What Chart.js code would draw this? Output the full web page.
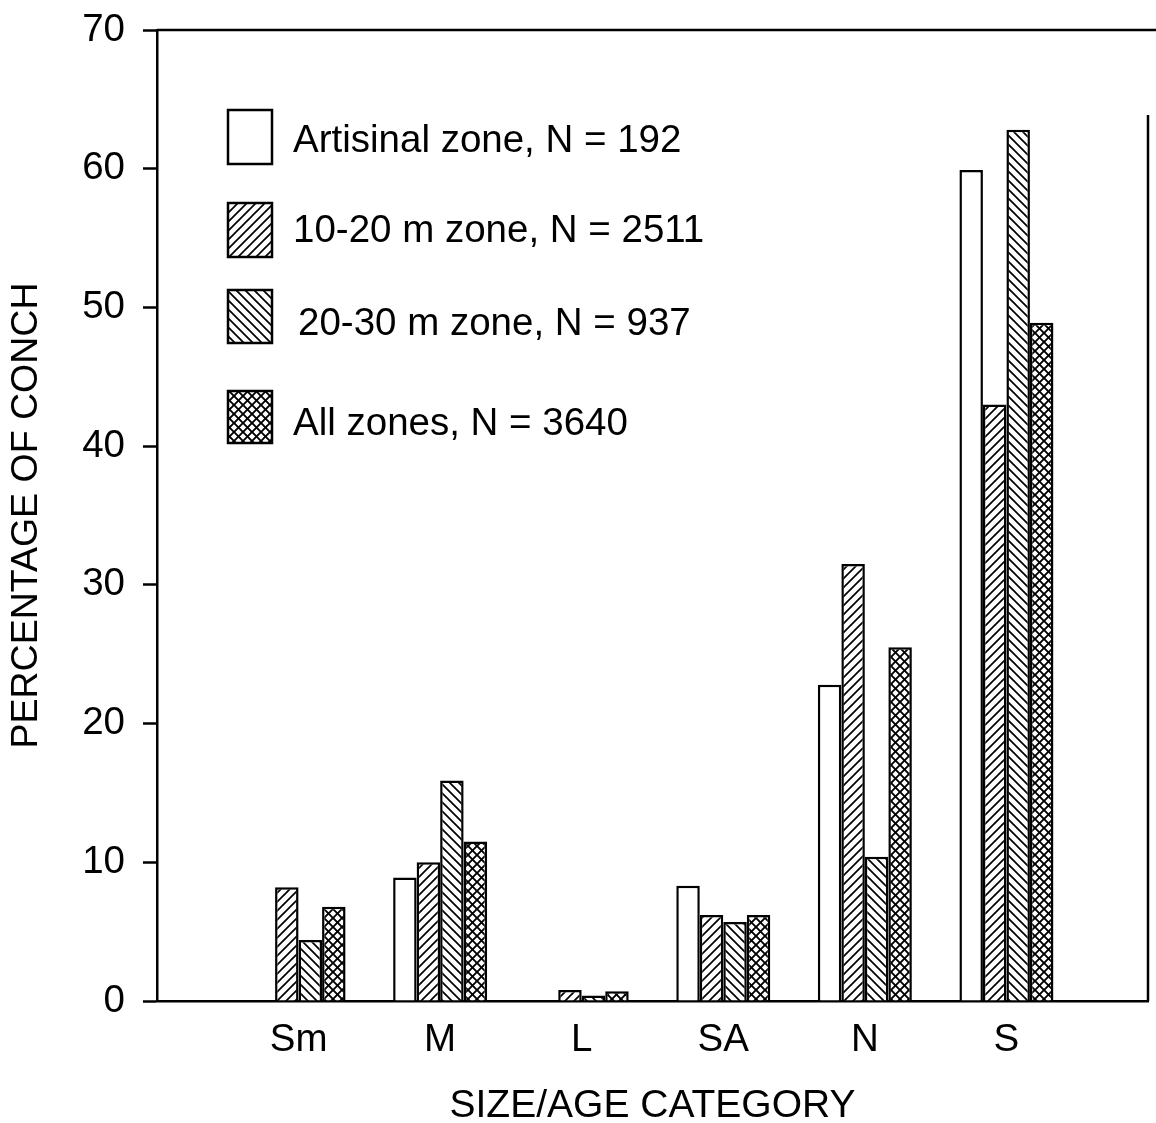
<!DOCTYPE html>
<html>
<head>
<meta charset="utf-8">
<script src="https://cdn.jsdelivr.net/npm/chart.js@4/dist/chart.umd.min.js"></script>
<style>
  html, body { margin: 0; padding: 0; background: #fff; }
  #wrap { width: 1156px; height: 1123px; }
</style>
</head>
<body>
<div id="wrap"><canvas id="c" width="1156" height="1123"></canvas></div>
<script>
// Size/age categories of conch
const categories = ['Sm', 'M', 'L', 'SA', 'N', 'S'];

// Percentage of conch per zone
const artisinal = [0, 8.9, 0, 8.3, 22.8, 59.9];
const zone1020  = [8.2, 10.0, 0.8, 6.2, 31.5, 43.0];
const zone2030  = [4.4, 15.9, 0.4, 5.7, 10.4, 62.8];
const allZones  = [6.8, 11.5, 0.7, 6.2, 25.5, 48.9];

const seriesNames = [
  'Artisinal zone, N = 192',
  '10-20 m zone, N = 2511',
  '20-30 m zone, N = 937',
  'All zones, N = 3640'
];

const yTicks = [0, 10, 20, 30, 40, 50, 60, 70];

const FONT = "'Liberation Sans', Arial, sans-serif";

// Hatch fills
function makePattern(kind) {
  const s = 9;
  const c = document.createElement('canvas');
  c.width = s; c.height = s;
  const g = c.getContext('2d');
  g.fillStyle = '#fff';
  g.fillRect(0, 0, s, s);
  g.strokeStyle = '#000';
  g.lineCap = 'square';
  const fwd = () => {
    g.beginPath();
    g.moveTo(-1, s + 1); g.lineTo(s + 1, -1);
    g.moveTo(-1, 1); g.lineTo(1, -1);
    g.moveTo(s - 1, s + 1); g.lineTo(s + 1, s - 1);
    g.stroke();
  };
  const back = () => {
    g.beginPath();
    g.moveTo(-1, -1); g.lineTo(s + 1, s + 1);
    g.moveTo(s - 1, -1); g.lineTo(s + 1, 1);
    g.moveTo(-1, s - 1); g.lineTo(1, s + 1);
    g.stroke();
  };
  if (kind === 'fwd') { g.lineWidth = 1.7; fwd(); }
  else if (kind === 'back') { g.lineWidth = 1.7; back(); }
  else { g.lineWidth = 1.9; fwd(); back(); }
  return g.createPattern(c, 'repeat');
}

const fills = ['#ffffff', makePattern('fwd'), makePattern('back'), makePattern('cross')];
const seriesValues = [artisinal, zone1020, zone2030, allZones];

// one empty slot on each side of the categories
const xLabels = [''].concat(categories, ['']);
const pad = arr => [null].concat(arr, [null]);

const datasets = seriesValues.map((vals, i) => ({
  label: seriesNames[i],
  data: pad(vals),
  backgroundColor: fills[i],
  borderColor: '#000',
  borderWidth: 2.5,
  borderSkipped: 'start',
  categoryPercentage: 0.664,
  barPercentage: 1.0
}));

// Key with pattern swatches
const keyPlugin = {
  id: 'key',
  afterDraw(chart) {
    const ctx = chart.ctx;
    const boxTops = [110, 203, 290, 391];
    const boxH = [54, 54, 53, 52];
    const textX = [293, 293, 298, 293];
    const baselines = [152, 242, 335, 435];
    ctx.save();
    ctx.font = '38.5px ' + FONT;
    ctx.textBaseline = 'alphabetic';
    ctx.textAlign = 'left';
    chart.data.datasets.forEach((ds, i) => {
      ctx.fillStyle = ds.backgroundColor;
      ctx.fillRect(228, boxTops[i], 44, boxH[i]);
      ctx.strokeStyle = '#000';
      ctx.lineWidth = 2.5;
      ctx.strokeRect(228, boxTops[i], 44, boxH[i]);
      ctx.fillStyle = '#000';
      ctx.fillText(ds.label, textX[i], baselines[i]);
    });
    ctx.restore();
  }
};

// Top and right frame lines
const framePlugin = {
  id: 'frame',
  afterDraw(chart) {
    const { ctx, chartArea: a, width } = chart;
    ctx.save();
    ctx.strokeStyle = '#000';
    ctx.lineWidth = 2.5;
    ctx.beginPath();
    ctx.moveTo(a.left, a.top);
    ctx.lineTo(width, a.top);
    ctx.moveTo(a.right, a.top + 85);
    ctx.lineTo(a.right, a.bottom);
    ctx.stroke();
    ctx.restore();
  }
};

new Chart(document.getElementById('c'), {
  type: 'bar',
  data: { labels: xLabels, datasets },
  options: {
    responsive: false,
    animation: false,
    layout: { padding: { top: 30, right: 8, left: 0, bottom: 0 } },
    plugins: {
      legend: { display: false },
      tooltip: { enabled: false }
    },
    scales: {
      x: {
        offset: false,
        afterFit(scale) {
          scale.height = 122;
          scale.paddingLeft = 0;
          scale.paddingRight = 0;
        },
        grid: { display: false, drawTicks: false },
        border: { display: true, color: '#000', width: 2.5 },
        ticks: {
          autoSkip: false, maxRotation: 0, minRotation: 0,
          padding: 16,
          color: '#000',
          font: { family: FONT, size: 38.5 }
        },
        title: {
          display: true,
          text: 'SIZE/AGE CATEGORY',
          color: '#000',
          font: { family: FONT, size: 39, lineHeight: 0.85 },
          padding: { top: 0, bottom: 0 }
        }
      },
      y: {
        min: 0, max: 70,
        afterFit(scale) {
          scale.width = 157;
          scale.paddingTop = 0;
          scale.paddingBottom = 0;
        },
        afterBuildTicks(scale) { scale.ticks = yTicks.map(v => ({ value: v })); },
        grid: {
          drawOnChartArea: false,
          drawTicks: true,
          tickLength: 14,
          tickWidth: 2.5,
          tickColor: '#000'
        },
        border: { display: true, color: '#000', width: 2.5 },
        ticks: {
          padding: 18,
          color: '#000',
          font: { family: FONT, size: 38.5 }
        },
        title: {
          display: true,
          text: 'PERCENTAGE OF CONCH',
          color: '#000',
          font: { family: FONT, size: 37.5, lineHeight: 1 },
          padding: { top: 8, bottom: 0 }
        }
      }
    }
  },
  plugins: [keyPlugin, framePlugin]
});
</script>
</body>
</html>
